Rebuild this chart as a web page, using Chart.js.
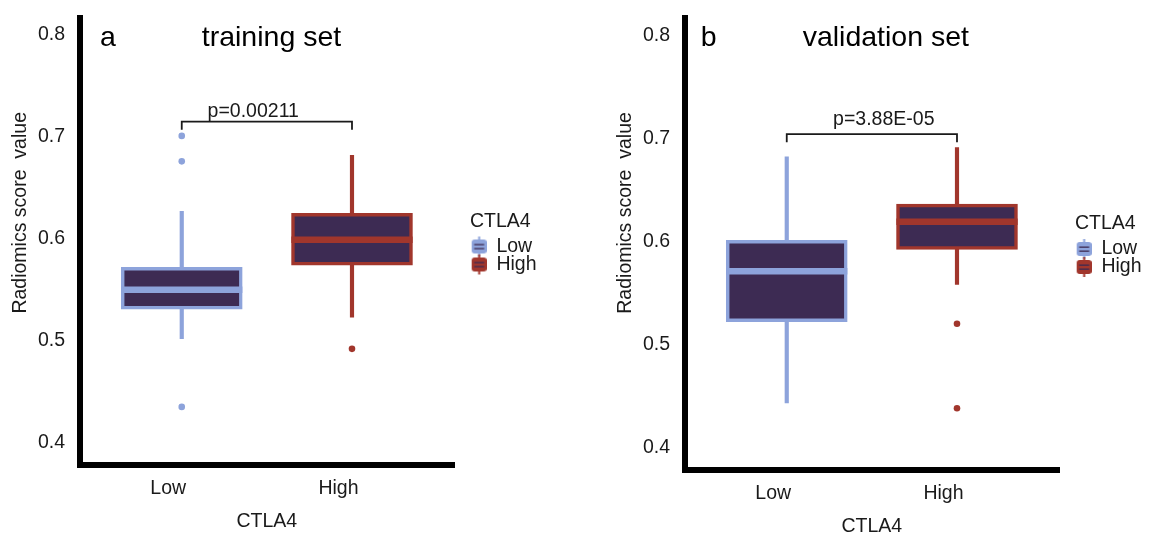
<!DOCTYPE html>
<html>
<head>
<meta charset="utf-8">
<title>CTLA4 radiomics score</title>
<script src="https://cdn.jsdelivr.net/npm/chart.js@4.4.1/dist/chart.umd.min.js"></script>
<style>
  html, body { margin: 0; padding: 0; background: #fff; }
  #wrap { position: relative; width: 1159px; height: 534px; overflow: hidden; }
  #panelA { position: absolute; left: 0; top: 0; }
  #panelB { position: absolute; left: 605px; top: 0; }
</style>
</head>
<body>
<div id="wrap">
  <canvas id="panelA" width="554" height="534"></canvas>
  <canvas id="panelB" width="554" height="539"></canvas>
</div>
<script>
const groups = ['Low', 'High'];
const yTicks = [0.4, 0.5, 0.6, 0.7, 0.8];

// training set: whisker ends, quartiles, medians, outliers per group
const trainLower = [0.502, 0.523];
const trainQ1 = [0.531, 0.574];
const trainMedian = [0.550, 0.599];
const trainQ3 = [0.572, 0.625];
const trainUpper = [0.627, 0.682];
const trainOutliers = [[0.701, 0.676, 0.435], [0.492]];
const trainBracket = [0.707, 0.715];
const trainP = 'p=0.00211';

// validation set
const validLower = [0.443, 0.558];
const validQ1 = [0.522, 0.592];
const validMedian = [0.571, 0.619];
const validQ3 = [0.601, 0.636];
const validUpper = [0.682, 0.691];
const validOutliers = [[], [0.520, 0.438]];
const validBracket = [0.696, 0.704];
const validP = 'p=3.88E-05';

const lineColors = ['#8DA3DB', '#A1362C'];
const boxFill = '#3D2B53';
const boxWidth = 0.712;   // box width in category units
const FONT = "'Liberation Sans', Arial, sans-serif";
const TEXT = '#1a1a1a';

Chart.defaults.font.family = FONT;
Chart.defaults.color = TEXT;

// little ggplot-like box key for the legend
let keyIcon = (color) => {
    let c = document.createElement('canvas');
    c.width = 34;
    c.height = 22;
    let g = c.getContext('2d');
    g.fillStyle = color;
    g.fillRect(25.5, 1, 2, 20);
    g.beginPath();
    g.roundRect(19, 4, 15, 14, 3);
    g.fill();
    g.fillStyle = boxFill;
    g.fillRect(21.5, 8.5, 10, 1.3);
    g.fillRect(21.5, 12.5, 10, 1.3);
    return c;
}

// panel letter, title, p value and y axis title
const panelText = {
    id: 'panelText',
    afterDatasetsDraw(chart, args, opts) {
        let {ctx, chartArea} = chart;
        let x = chart.scales.x, y = chart.scales.y;
        ctx.save();
        ctx.fillStyle = '#000';
        ctx.textAlign = 'center';
        ctx.textBaseline = 'alphabetic';
        ctx.font = '28.5px ' + FONT;
        ctx.fillText(opts.letter, x.getPixelForValue(opts.letterX), y.getPixelForValue(opts.titleY));
        ctx.fillText(opts.title, x.getPixelForValue(opts.titleX), y.getPixelForValue(opts.titleY));
        ctx.font = '19.5px ' + FONT;
        ctx.fillStyle = TEXT;
        ctx.fillText(opts.pText, x.getPixelForValue(opts.pX), y.getPixelForValue(opts.pY));
        ctx.translate(chartArea.left - 58.6, y.getPixelForValue(opts.yTitleAt));
        ctx.rotate(-Math.PI / 2);
        ctx.textBaseline = 'middle';
        ctx.fillText('Radiomics score  value', 0, 0);
        ctx.restore();
    }
};

let createPanel = (id, set, text) => {
    let ctx = document.querySelector(id).getContext('2d');

    let outlierPts = [];
    let outlierColors = [];
    set.outliers.forEach((vals, i) => {
        vals.forEach(v => {
            outlierPts.push({x: i + 1, y: v});
            outlierColors.push(lineColors[i]);
        });
    });

    let bracket = [
        {x: 1, y: set.bracket[0]}, {x: 1, y: set.bracket[1]},
        {x: 2, y: set.bracket[1]}, {x: 2, y: set.bracket[0]}
    ];

    let medians = set.median.map((v, i) => ({
        type: 'line',
        data: [{x: i + 1 - boxWidth / 2, y: v}, {x: i + 1 + boxWidth / 2, y: v}],
        borderColor: lineColors[i], borderWidth: 6.5, borderCapStyle: 'butt',
        pointRadius: 0, tension: 0, fill: false, order: 2
    }));

    return new Chart(ctx, {
        type: 'bar',
        data: {
            datasets: [
                {
                    type: 'line', data: bracket, borderColor: TEXT, borderWidth: 1.8,
                    pointRadius: 0, tension: 0, fill: false, order: 0
                },
                {
                    type: 'scatter', data: outlierPts, pointRadius: 3.3,
                    pointBackgroundColor: outlierColors, pointBorderWidth: 0, order: 1
                },
                ...medians,
                {
                    type: 'bar', data: groups.map((g, i) => ({x: i + 1, y: [set.q1[i], set.q3[i]]})),
                    backgroundColor: boxFill, borderColor: lineColors, borderWidth: 3.5,
                    borderSkipped: false, barThickness: 121, grouped: false, order: 3
                },
                {
                    type: 'bar', data: groups.map((g, i) => ({x: i + 1, y: [set.lower[i], set.upper[i]]})),
                    backgroundColor: lineColors, borderWidth: 0,
                    barThickness: 3.5, grouped: false, order: 4
                }
            ]
        },
        options: {
            responsive: false,
            animation: false,
            events: [],
            layout: {padding: {top: 18, left: 0, right: 7.5, bottom: 0}},
            scales: {
                x: {
                    type: 'linear', min: 0.4, max: 2.6, offset: false,
                    grid: {display: false, drawTicks: false},
                    border: {display: true, color: '#000', width: 6},
                    afterBuildTicks: (s) => { s.ticks = groups.map((g, i) => ({value: i + 1})); },
                    afterFit: (s) => {
                        s.height = 69;
                        s.paddingLeft = 0;
                        s.paddingRight = 0;
                    },
                    ticks: {
                        callback: (v) => groups[v - 1], padding: 12.3, labelOffset: -13.5,
                        color: TEXT, font: {size: 19.5}, maxRotation: 0, autoSkip: false
                    },
                    title: {display: true, text: 'CTLA4', color: TEXT, font: {size: 19.5}, padding: {top: 0, bottom: 0.3}}
                },
                y: {
                    type: 'linear', min: 0.378, max: 0.8167,
                    grid: {display: false, drawTicks: false},
                    border: {display: true, color: '#000', width: 6},
                    afterBuildTicks: (s) => { s.ticks = yTicks.map(v => ({value: v})); },
                    afterFit: (s) => {
                        s.width = 79.6;
                        s.paddingTop = 0;
                        s.paddingBottom = 0;
                    },
                    ticks: {callback: (v) => v.toFixed(1), padding: 14.5, color: TEXT, font: {size: 19.5}}
                }
            },
            plugins: {
                tooltip: {enabled: false},
                legend: {
                    position: 'right', align: 'center', fullSize: false,
                    title: {display: true, text: 'CTLA4', color: TEXT, font: {size: 19.5}, padding: {top: 1.5, bottom: 3.1}},
                    labels: {
                        usePointStyle: true, pointStyleWidth: 34, padding: -1.5,
                        color: TEXT, font: {size: 19.5},
                        generateLabels: () => groups.map((g, i) => ({
                            text: g, pointStyle: keyIcon(lineColors[i]), fillStyle: lineColors[i],
                            strokeStyle: lineColors[i], lineWidth: 0, hidden: false, datasetIndex: 3
                        }))
                    }
                },
                panelText: text
            }
        },
        plugins: [panelText]
    });
}

createPanel('#panelA', {
    lower: trainLower, q1: trainQ1, median: trainMedian, q3: trainQ3, upper: trainUpper,
    outliers: trainOutliers, bracket: trainBracket
}, {
    letter: 'a', letterX: 0.567, title: 'training set', titleX: 1.527, titleY: 0.7894,
    pText: trainP, pX: 1.42, pY: 0.720, yTitleAt: 0.6255
});

createPanel('#panelB', {
    lower: validLower, q1: validQ1, median: validMedian, q3: validQ3, upper: validUpper,
    outliers: validOutliers, bracket: validBracket
}, {
    letter: 'b', letterX: 0.541, title: 'validation set', titleX: 1.582, titleY: 0.7895,
    pText: validP, pX: 1.57, pY: 0.7124, yTitleAt: 0.6275
});
</script>
</body>
</html>
